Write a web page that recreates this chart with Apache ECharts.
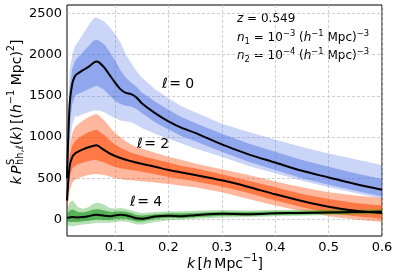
<!DOCTYPE html>
<html><head><meta charset="utf-8">
<script src="https://cdn.jsdelivr.net/npm/echarts@6/dist/echarts.min.js"></script>
<style>html,body{margin:0;padding:0;background:#fff}#c{width:399px;height:278px}</style>
</head><body><div id="c"></div>
<script>
// ---- data ----
const kVals = [0.01,0.015,0.02,0.025,0.03,0.04,0.05,0.06,0.065,0.07,0.08,0.09,0.10,0.11,0.12,0.13,0.14,0.15,0.175,0.2,0.225,0.25,0.3,0.35,0.4,0.45,0.5,0.55,0.6];
const xTicks = [0.1,0.2,0.3,0.4,0.5,0.6];
const yTicks = [0,500,1000,1500,2000,2500];

const monoMean = [500,1400,1650,1740,1770,1810,1850,1900,1915,1905,1840,1750,1660,1580,1535,1520,1480,1410,1290,1190,1110,1050,910,790,690,590,510,430,360];
const monoHi   = [900,1800,2000,2100,2150,2250,2350,2440,2450,2430,2400,2330,2250,2150,2000,1900,1800,1720,1580,1470,1370,1300,1160,1060,970,880,800,730,660];
const monoLo   = [150,900,1150,1250,1250,1280,1300,1320,1320,1320,1300,1260,1230,1200,1190,1180,1150,1110,1040,980,920,860,760,650,560,470,390,320,250];
const monoInHi = [700,1600,1830,1920,1960,2030,2100,2170,2180,2170,2120,2030,1930,1810,1720,1660,1610,1540,1430,1330,1240,1170,1040,920,820,720,640,560,490];
const monoInLo = [320,1150,1400,1500,1520,1550,1580,1610,1620,1610,1570,1500,1440,1400,1380,1370,1340,1290,1180,1090,1010,950,820,700,600,500,420,350,280];

const quadMean = [230,650,760,800,820,850,875,895,900,885,840,800,770,745,725,705,690,675,640,600,570,540,475,395,305,225,155,105,80];
const quadHi   = [400,900,1050,1120,1150,1200,1240,1270,1280,1260,1200,1120,1050,1000,950,910,880,860,810,760,720,680,610,540,460,390,330,290,260];
const quadLo   = [100,350,450,480,500,520,540,550,550,550,540,520,500,490,480,475,470,465,450,430,410,390,330,250,170,100,40,0,-30];
const quadInHi = [320,780,900,950,980,1020,1060,1080,1090,1070,1020,960,910,870,840,810,790,770,730,690,650,620,550,470,390,310,250,200,170];
const quadInLo = [160,520,620,650,670,690,710,720,720,710,690,660,640,620,610,600,590,580,550,515,490,460,400,320,230,150,80,40,10];

const hexaMean = [20,25,30,28,25,30,40,55,58,55,45,40,50,58,52,35,15,10,35,45,40,52,70,65,75,80,85,90,95];
const hexaHi   = [120,210,230,200,150,130,150,190,200,200,180,140,130,140,130,110,90,80,90,100,100,105,115,110,115,118,120,122,125];
const hexaLo   = [-60,-80,-80,-80,-70,-60,-55,-45,-40,-40,-40,-40,-30,-25,-25,-40,-60,-60,-30,-10,0,10,25,30,40,45,55,60,65];
const hexaInHi = [70,110,120,110,90,85,100,120,125,125,110,95,95,100,95,80,55,50,65,75,75,80,95,90,98,100,105,108,112];
const hexaInLo = [-25,-30,-30,-30,-30,-20,-15,-5,0,0,-5,-5,5,10,10,-5,-25,-25,5,20,15,28,45,45,55,60,68,73,80];

// ---- rendering ----
const FONT = '"DejaVu Sans", sans-serif';
const mctx = document.createElement('canvas').getContext('2d');
function buildText(segs, base, align) {
  let x = 0, lastX = 0, lastW = 0; const els = [];
  segs.forEach(sg => {
    const fs = base * (sg.s || 1);
    const font = (sg.it ? 'italic ' : '') + fs + 'px ' + FONT;
    mctx.font = font;
    const w = mctx.measureText(sg.t).width;
    let px = sg.stack ? lastX : x;
    els.push({type:'text', x: px, y: (sg.dy || 0) * base, silent:true,
      style:{text: sg.t, font: font, fill:'#000', verticalAlign:'middle', align:'left'}});
    if (sg.stack) { x = lastX + Math.max(w, lastW); }
    else { lastX = x; lastW = w; x += w; }
    x += (sg.gap || 0) * base;
  });
  const off = align === 'left' ? 0 : -x / 2;
  els.forEach(e => e.x += off);
  return els;
}
const sup = (t) => ({t, s:0.7, dy:-0.38});
const sub = (t) => ({t, s:0.7, dy:0.28});

const yLabel = buildText([
  {t:'k', it:true, gap:0.17}, {t:'P', it:true, gap:0.05},
  sup('S'), Object.assign(sub('hh,ℓ'), {stack:true}),
  {t:'('}, {t:'k', it:true}, {t:')', gap:0.17}, {t:'[('}, {t:'h', it:true}, sup('−1'),
  {t:' Mpc)'}, sup('2'), {t:']'}
], 14);
const xLabel = buildText([
  {t:'k', it:true, gap:0.17}, {t:'['}, {t:'h', it:true, gap:0.17}, {t:'Mpc'}, sup('−1'), {t:']'}
], 14);
function nLine(i, e) {
  return buildText([{t:'n', it:true}, sub(i), {t:' = 10'}, sup(e), {t:' ('}, {t:'h', it:true}, sup('−1'), {t:' Mpc)'}, sup('−3')], 12, 'left');
}
const ann1 = buildText([{t:'z', it:true}, {t:' = 0.549'}], 12, 'left');
const ann2 = nLine('1', '−3');
const ann3 = nLine('2', '−4');
const lab = (d) => buildText([{t:'ℓ', it:true, gap:0.1}, {t:'= ' + d}], 14, 'left');

function band(lo, hi, color, opacity, z) {
  return {type:'custom', coordinateSystem:'cartesian2d', clip:true, silent:true, z: z,
    data:[[kVals[0], lo[0]]],
    renderItem: function (params, api) {
      const pts = [];
      for (let i = 0; i < kVals.length; i++) pts.push(api.coord([kVals[i], hi[i]]));
      for (let i = kVals.length - 1; i >= 0; i--) pts.push(api.coord([kVals[i], lo[i]]));
      return {type:'polygon', shape:{points: pts}, style:{fill: color, opacity: opacity}};
    }};
}
function meanLine(vals) {
  return {type:'line', data: kVals.map((k, i) => [k, vals[i]]), showSymbol:false, symbol:'none',
    smooth:0.25, clip:true, z:10, silent:true, lineStyle:{color:'#000', width:2}};
}

const chart = echarts.init(document.getElementById('c'), null, {renderer:'canvas'});
chart.setOption({
  animation:false,
  backgroundColor:'#fff',
  grid:{left:67, right:17, top:5, bottom:42, show:true, borderColor:'#000', borderWidth:1, backgroundColor:'transparent', containLabel:false, outerBoundsMode:'none'},
  xAxis:{type:'value', min:0.01, max:0.6,
    axisLine:{show:false}, axisTick:{show:false, customValues:xTicks},
    axisLabel:{customValues:xTicks, formatter:(v)=>v.toFixed(1), fontSize:13, color:'#000', fontFamily:FONT, margin:5},
    splitLine:{show:true, lineStyle:{type:[3,2], color:'#c4c4c4', width:0.8}}},
  yAxis:{type:'value', min:-200, max:2600,
    axisLine:{show:false}, axisTick:{show:false, customValues:yTicks},
    axisLabel:{customValues:yTicks, formatter:(v)=>String(v), fontSize:13, color:'#000', fontFamily:FONT, margin:5},
    splitLine:{show:true, lineStyle:{type:[3,2], color:'#c4c4c4', width:0.8}}},
  series:[
    band(monoLo, monoHi, '#4169e1', 0.28, 1),
    band(monoInLo, monoInHi, '#4169e1', 0.42, 2),
    band(quadLo, quadHi, '#ff4500', 0.38, 3),
    band(quadInLo, quadInHi, '#ff4500', 0.55, 4),
    band(hexaLo, hexaHi, '#16a016', 0.32, 5),
    band(hexaInLo, hexaInHi, '#0b8a0b', 0.55, 6),
    meanLine(monoMean), meanLine(quadMean), meanLine(hexaMean)
  ],
  graphic:[
    {type:'group', x:17, y:112, rotation:Math.PI/2, children:yLabel},
    {type:'group', x:225, y:264, children:xLabel},
    {type:'group', x:237, y:19, children:ann1},
    {type:'group', x:237, y:38, children:ann2},
    {type:'group', x:237, y:56, children:ann3},
    {type:'group', x:162, y:84, children:lab('0')},
    {type:'group', x:137, y:144, children:lab('2')},
    {type:'group', x:130, y:202, children:lab('4')}
  ]
});
</script></body></html>
